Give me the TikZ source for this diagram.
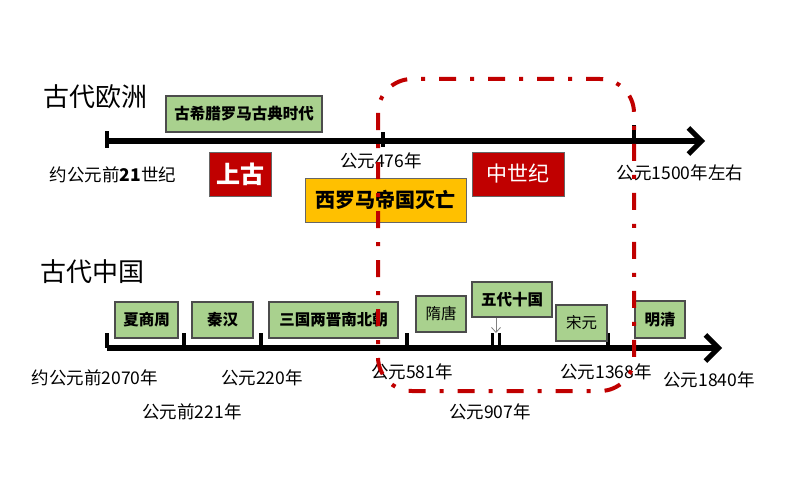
\documentclass[tikz,border=0pt]{standalone}
\usepackage{fontspec}
\setmainfont{Noto Sans CJK SC}
\usetikzlibrary{arrows.meta}

\definecolor{periodgreen}{HTML}{A9D18E}
\definecolor{erared}{HTML}{C00000}
\definecolor{fallyellow}{HTML}{FFC000}

\tikzset{
  period/.style={draw=black!70, fill=periodgreen, line width=1.2pt, inner sep=0pt,
    font=\fontsize{15.5}{18}\selectfont\bfseries},
  periodlight/.style={period, font=\fontsize{15.5}{18}\selectfont},
  erabox/.style={draw=black!60, fill=erared, text=white, line width=1pt, inner sep=0pt},
  datelabel/.style={inner sep=0pt, font=\fontsize{17.5}{20}\selectfont},
  axisline/.style={line width=6pt, -{Straight Barb[length=13pt,width=26pt,line width=5pt]}},
  tickmark/.style={line width=4pt},
}

\begin{document}
\begin{tikzpicture}[x=1pt, y=-1pt]
    \useasboundingbox (0,0) rectangle (794,476);

    % ---- Europe ----
    \node[font=\fontsize{26}{30}\selectfont] (eutitle) at (95,97) {古代欧洲};
    \coordinate (eustart) at (107,141);
    \coordinate (euend) at (705,141);
    \draw[axisline] (eustart) -- (euend);
    % ticks
    \draw[tickmark] (107,131) -- (107,148);
    \draw[tickmark] (383,132) -- (383,147);
    \draw[tickmark] (634,125) -- (634,141);
    % periods and eras
    \node[period, minimum width=156pt, minimum height=36pt] (classic) at (244,114) {古希腊罗马古典时代};
    \node[erabox, minimum width=62pt, minimum height=44pt, font=\fontsize{24}{28}\selectfont\bfseries] (ancient) at (240,174) {上古};
    \node[erabox, minimum width=92pt, minimum height=44pt, font=\fontsize{21}{24}\selectfont] (medieval) at (518,174) {中世纪};
    \node[draw=black!60, fill=fallyellow, line width=1pt, inner sep=0pt, minimum width=161pt, minimum height=44pt,
      font=\fontsize{20}{24}\selectfont\bfseries] (westfall) at (385.5,200) {西罗马帝国灭亡};
    % dates
    \node[datelabel] (d21c) at (113,175) {约公元前\textbf{21}世纪};
    \node[datelabel] (d476) at (381,161) {公元476年};
    \node[datelabel] (d1500) at (680,173) {公元1500年左右};

    % ---- China ----
    \node[font=\fontsize{26}{30}\selectfont] (cntitle) at (92,272) {古代中国};
    \coordinate (cnstart) at (107,348);
    \coordinate (cnend) at (722,348);
    \draw[axisline] (cnstart) -- (cnend);
    % ticks
    \foreach \tx in {107,184,261,407,608}
        \draw[tickmark] (\tx,333) -- (\tx,348);
    \foreach \tx in {492,499}
        \draw[line width=3pt] (\tx,333) -- (\tx,348);
    % dynasties
    \node[period, minimum width=63pt, minimum height=36pt] (xia) at (146.5,320) {夏商周};
    \node[period, minimum width=61pt, minimum height=36pt] (qin) at (222.5,320) {秦汉};
    \node[period, minimum width=129pt, minimum height=36pt] (sanguo) at (333.5,320) {三国两晋南北朝};
    \node[periodlight, minimum width=50pt, minimum height=36pt] (suitang) at (441,314) {隋唐};
    \node[period, minimum width=80pt, minimum height=35pt] (wudai) at (512,299.5) {五代十国};
    \node[periodlight, minimum width=51pt, minimum height=36pt] (songyuan) at (581.5,323) {宋元};
    \node[period, minimum width=50pt, minimum height=37pt] (mingqing) at (660,319.5) {明清};
    \coordinate (t907) at (496,333);
    \draw[-{Straight Barb[length=5pt,width=9pt]}, gray, line width=0.8pt] (wudai.south -| t907) -- (t907);
    % dates
    \node[datelabel] (d2070) at (95,378) {约公元前2070年};
    \node[datelabel] (d221bc) at (192,412) {公元前221年};
    \node[datelabel] (d220) at (262,378) {公元220年};
    \node[datelabel] (d581) at (412,372) {公元581年};
    \node[datelabel] (d907) at (490,412) {公元907年};
    \node[datelabel] (d1368) at (606,372) {公元1368年};
    \node[datelabel] (d1840) at (709,380) {公元1840年};

    % ---- middle ages frame ----
    \draw[erared, line width=4pt, rounded corners=34pt,
      dash pattern=on 17pt off 14pt on 4pt off 14pt] (378,79) rectangle (634,391);
\end{tikzpicture}
\end{document}
